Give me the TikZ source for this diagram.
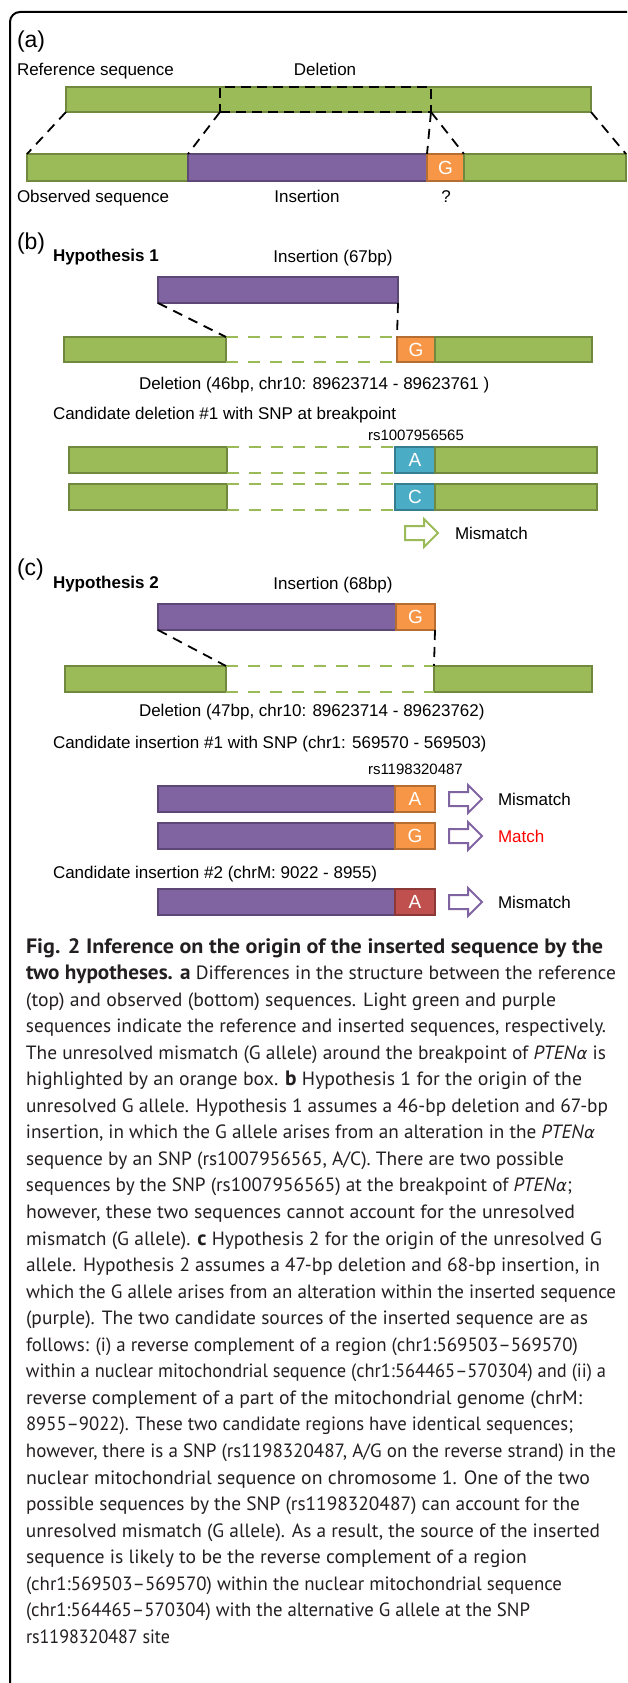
\documentclass[tikz,border=0pt]{standalone}
\usepackage{fontspec}
\usepackage{graphicx}
\setmainfont{Liberation Sans}
\newfontfamily\capfont{PT Sans}
\newfontfamily\grkfont{DejaVu Sans}
\definecolor{gfill}{RGB}{155,187,89}
\definecolor{gline}{RGB}{113,137,63}
\definecolor{pfill}{RGB}{128,100,162}
\definecolor{pline}{RGB}{92,71,118}
\definecolor{ofill}{RGB}{247,150,70}
\definecolor{oline}{RGB}{182,109,49}
\definecolor{bfill}{RGB}{75,172,198}
\definecolor{bline}{RGB}{53,125,145}
\definecolor{rfill}{RGB}{192,80,77}
\definecolor{rline}{RGB}{140,56,54}
\definecolor{matchred}{RGB}{255,0,0}
\definecolor{captext}{RGB}{35,31,32}
\newcommand{\dfont}{\fontsize{17pt}{20pt}\selectfont}
\newcommand{\bigfont}{\fontsize{23pt}{26pt}\selectfont}
\newcommand{\rsfont}{\fontsize{15pt}{18pt}\selectfont}
\newcommand{\allelefont}{\fontsize{19pt}{22pt}\selectfont}
\newcommand{\cfont}{\capfont\fontsize{19.2pt}{24pt}\selectfont}
\newcommand{\cb}[1]{{\bfseries\fontsize{20.8pt}{24pt}\selectfont #1}}
\newcommand{\pten}{\textit{PTEN}{\grkfont\itshape\fontsize{16.5pt}{20pt}\selectfont α}}
\newcommand{\seqnode}[7]{%
  \pgfmathsetmacro{\sqw}{#5-#3}%
  \pgfmathsetmacro{\sqh}{#6-#4}%
  \node[#1, anchor=north west, minimum width=\sqw pt, minimum height=\sqh pt] (#2) at (#3,#4) {#7};}
\newcommand{\blockarrow}[4]{% style, x0, x1, yc
  \pgfmathsetmacro{\hx}{#3-14}%
  \draw[#1] (#2,#4-7) -- (\hx,#4-7) -- (\hx,#4-14) -- (#3,#4) -- (\hx,#4+14) -- (\hx,#4+7) -- (#2,#4+7) -- cycle;}
\newcommand{\capline}[4]{% name, baseline y, right end x, text
  \pgfmathsetmacro{\clw}{#3-26}%
  \node[capl] (#1) at (26,#2) {\resizebox{\clw pt}{\height}{#4}};}
\begin{document}
\begin{tikzpicture}[x=1pt,y=-1pt,
  every node/.style={inner sep=0pt, outer sep=0pt},
  sbox/.style={line width=2pt, inner sep=0pt, outer sep=0pt},
  gbar/.style={sbox, fill=gfill, draw=gline},
  pbar/.style={sbox, fill=pfill, draw=pline},
  obar/.style={sbox, fill=ofill, draw=oline, text=white, font=\allelefont},
  bbar/.style={sbox, fill=bfill, draw=bline, text=white, font=\allelefont},
  rbar/.style={sbox, fill=rfill, draw=rline, text=white, font=\allelefont},
  delbox/.style={line width=2pt, draw=black, dash pattern=on 10pt off 6pt},
  lbl/.style={font=\dfont, anchor=base west},
  lblc/.style={font=\dfont, anchor=base},
  hyp/.style={font=\dfont\bfseries, anchor=base west},
  panel/.style={font=\bigfont, anchor=base west},
  blk/.style={black, line width=1.8pt, dash pattern=on 10pt off 7pt},
  gdash/.style={gfill, line width=1.8pt, dash pattern=on 12pt off 10pt},
  garrow/.style={draw=gfill, line width=2pt, fill=white, line join=miter},
  parrow/.style={draw=pfill, line width=2pt, fill=white, line join=miter},
  capl/.style={font=\cfont, text=captext, anchor=base west}]
\useasboundingbox (0,0) rectangle (627,1683);
\begin{scope}
\clip (0,0) rectangle (627,1683);
\draw[line width=2pt, rounded corners=10pt] (10,12) rectangle (700,1720);
\end{scope}

% ---------- (a)
\node[panel] (la) at (17,48) {(a)};
\node[lbl] (refl) at (17,76) {Reference sequence};
\node[lblc] (dell) at (325,76) {Deletion};
\seqnode{gbar}{ref}{66}{87}{591}{112}{}
\seqnode{delbox}{del}{220}{87}{431}{112}{}
\seqnode{gbar}{oL}{27}{154}{188}{181}{}
\seqnode{pbar}{oI}{188}{154}{427}{181}{}
\seqnode{obar}{oG}{427}{154}{464}{181}{G}
\seqnode{gbar}{oR}{464}{154}{626}{181}{}
\draw[blk] (ref.south west) -- (oL.north west);
\draw[blk] (del.south west) -- (oI.north west);
\draw[blk] (del.south east) -- (oG.north west);
\draw[blk] (del.south east) -- (oG.north east);
\draw[blk] (ref.south east) -- (oR.north east);
\node[lbl] (obsl) at (17,202) {Observed sequence};
\node[lblc] (insl) at (307,202) {Insertion};
\node[lblc] (ql) at (446,202) {?};

% ---------- (b)
\node[panel] (lb) at (17,249) {(b)};
\node[hyp] (h1) at (53,261) {Hypothesis 1};
\node[lblc] (i67) at (333,262) {Insertion (67bp)};
\seqnode{pbar}{ins1}{158}{277}{398}{303}{}
\seqnode{gbar}{bL}{64}{337}{226}{362}{}
\seqnode{obar}{bG}{397}{337}{435}{362}{G}
\seqnode{gbar}{bR}{435}{337}{592}{362}{}
\draw[gdash] (bL.north east) -- (bG.north west);
\draw[gdash] (bL.south east) -- (bG.south west);
\draw[blk] (ins1.south west) -- (bL.north east);
\draw[blk] (ins1.south east) -- (bG.north west);
\node[lbl] (d46) at (139,389) {Deletion (46bp, chr10: 89623714 - 89623761 )};
\node[lbl] (cd1) at (53,419) {Candidate deletion \#1 with SNP at breakpoint};
\node[font=\rsfont, anchor=base west] (rs1) at (368,440) {rs1007956565};
\seqnode{gbar}{aL}{69}{447}{227}{473}{}
\seqnode{bbar}{aA}{395}{447}{435}{473}{A}
\seqnode{gbar}{aR}{435}{447}{597}{473}{}
\draw[gdash] (aL.north east) -- (aA.north west);
\draw[gdash] (aL.south east) -- (aA.south west);
\seqnode{gbar}{cL}{69}{484}{227}{510}{}
\seqnode{bbar}{cC}{395}{484}{435}{510}{C}
\seqnode{gbar}{cR}{435}{484}{597}{510}{}
\draw[gdash] (cL.north east) -- (cC.north west);
\draw[gdash] (cL.south east) -- (cC.south west);
\blockarrow{garrow}{405}{438}{533}
\node[lbl] (mm0) at (455,539) {Mismatch};

% ---------- (c)
\node[panel] (lc) at (17,575) {(c)};
\node[hyp] (h2) at (53,588) {Hypothesis 2};
\node[lblc] (i68) at (333,589) {Insertion (68bp)};
\seqnode{pbar}{ins2}{158}{604}{396}{630}{}
\seqnode{obar}{ins2G}{396}{604}{435}{630}{G}
\seqnode{gbar}{eL}{65}{666}{226}{692}{}
\seqnode{gbar}{eR}{434}{666}{592}{692}{}
\draw[gdash] (eL.north east) -- (eR.north west);
\draw[gdash] (eL.south east) -- (eR.south west);
\draw[blk] (ins2.south west) -- (eL.north east);
\draw[blk] (ins2G.south east) -- (eR.north west);
\node[lbl] (d47) at (139,716) {Deletion (47bp, chr10: 89623714 - 89623762)};
\node[lbl] (ci1) at (53,748) {Candidate insertion \#1 with SNP (chr1: 569570 - 569503)};
\node[font=\rsfont, anchor=base west] (rs2) at (368,774) {rs1198320487};
\seqnode{pbar}{r1}{158}{786}{395}{812}{}
\seqnode{obar}{r1A}{395}{786}{435}{812}{A}
\blockarrow{parrow}{449}{482}{799}
\node[lbl] (mm1) at (498,805) {Mismatch};
\seqnode{pbar}{r2}{158}{823}{395}{849}{}
\seqnode{obar}{r2G}{395}{823}{435}{849}{G}
\blockarrow{parrow}{449}{482}{836}
\node[lbl, text=matchred] (mt) at (498,842) {Match};
\node[lbl] (ci2) at (53,878) {Candidate insertion \#2 (chrM: 9022 - 8955)};
\seqnode{pbar}{r3}{158}{889}{395}{915}{}
\seqnode{rbar}{r3A}{395}{889}{435}{915}{A}
\blockarrow{parrow}{449}{482}{902}
\node[lbl] (mm2) at (498,908) {Mismatch};

% ---------- caption
\capline{c1}{953.0}{603}{\cb{Fig. 2 Inference on the origin of the inserted sequence by the}}
\capline{c2}{979.55}{616}{\cb{two hypotheses. a} Differences in the structure between the reference}
\capline{c3}{1006.1}{556}{(top) and observed (bottom) sequences. Light green and purple}
\capline{c4}{1032.65}{606}{sequences indicate the reference and inserted sequences, respectively.}
\capline{c5}{1059.2}{606}{The unresolved mismatch (G allele) around the breakpoint of \pten\ is}
\capline{c6}{1085.75}{582}{highlighted by an orange box. \cb{b} Hypothesis 1 for the origin of the}
\capline{c7}{1112.3}{608}{unresolved G allele. Hypothesis 1 assumes a 46-bp deletion and 67-bp}
\capline{c8}{1138.85}{595}{insertion, in which the G allele arises from an alteration in the \pten}
\capline{c9}{1165.4}{564}{sequence by an SNP (rs1007956565, A/C). There are two possible}
\capline{c10}{1191.95}{572}{sequences by the SNP (rs1007956565) at the breakpoint of \pten;}
\capline{c11}{1218.5}{575}{however, these two sequences cannot account for the unresolved}
\capline{c12}{1245.05}{602}{mismatch (G allele). \cb{c} Hypothesis 2 for the origin of the unresolved G}
\capline{c13}{1271.6}{600}{allele. Hypothesis 2 assumes a 47-bp deletion and 68-bp insertion, in}
\capline{c14}{1298.15}{616}{which the G allele arises from an alteration within the inserted sequence}
\capline{c15}{1324.7}{588}{(purple). The two candidate sources of the inserted sequence are as}
\capline{c16}{1351.25}{578}{follows: (i) a reverse complement of a region (chr1:569503–569570)}
\capline{c17}{1377.8}{606}{within a nuclear mitochondrial sequence (chr1:564465–570304) and (ii) a}
\capline{c18}{1404.35}{582}{reverse complement of a part of the mitochondrial genome (chrM:}
\capline{c19}{1430.9}{573}{8955–9022). These two candidate regions have identical sequences;}
\capline{c20}{1457.45}{616}{however, there is a SNP (rs1198320487, A/G on the reverse strand) in the}
\capline{c21}{1484.0}{590}{nuclear mitochondrial sequence on chromosome 1. One of the two}
\capline{c22}{1510.55}{580}{possible sequences by the SNP (rs1198320487) can account for the}
\capline{c23}{1537.1}{600}{unresolved mismatch (G allele). As a result, the source of the inserted}
\capline{c24}{1563.65}{527}{sequence is likely to be the reverse complement of a region}
\capline{c25}{1590.2}{562}{(chr1:569503–569570) within the nuclear mitochondrial sequence}
\capline{c26}{1616.75}{530}{(chr1:564465–570304) with the alternative G allele at the SNP}
\capline{c27}{1643.3}{170}{rs1198320487 site}
\end{tikzpicture}
\end{document}
